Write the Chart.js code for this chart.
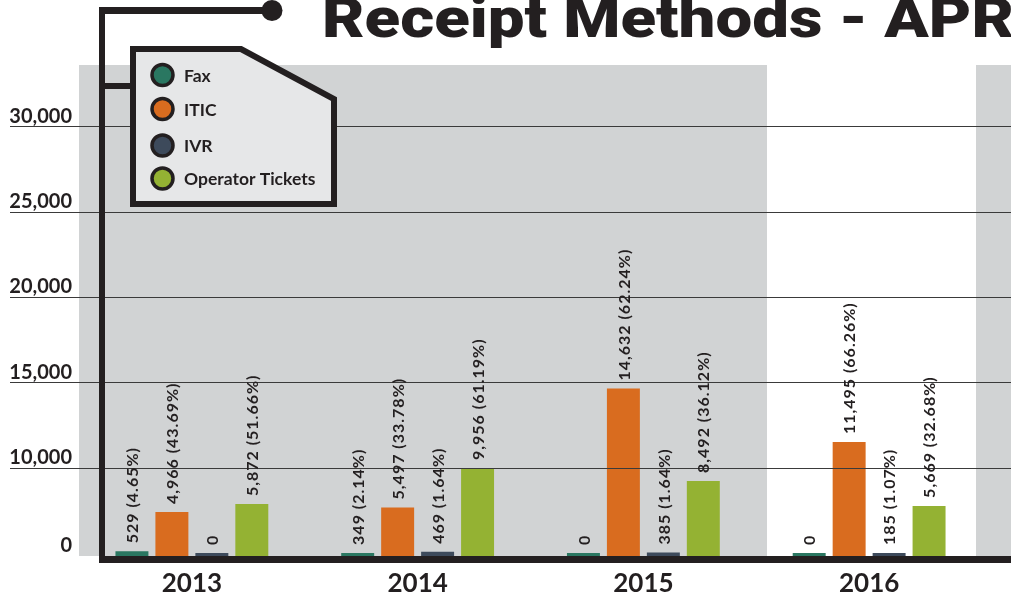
<!DOCTYPE html>
<html>
<head>
<meta charset="utf-8">
<script src="https://cdn.jsdelivr.net/npm/chart.js@4.4.1/dist/chart.umd.min.js"></script>
<style>
html,body{margin:0;padding:0;background:#ffffff;}
#wrap{width:1011px;height:598px;position:relative;overflow:hidden;}
canvas{display:block;}
</style>
</head>
<body>
<div id="wrap"><canvas id="chart" width="1011" height="598"></canvas></div>
<script>
// ---------- data ----------
const categories = ['2013', '2014', '2015', '2016'];
const seriesNames = ['Fax', 'ITIC', 'IVR', 'Operator Tickets'];
const faxValues = [529, 349, 0, 0];
const iticValues = [4966, 5497, 14632, 11495];
const ivrValues = [0, 469, 385, 185];
const operatorValues = [5872, 9956, 8492, 5669];
const faxPct = [4.65, 2.14, null, null];
const iticPct = [43.69, 33.78, 62.24, 66.26];
const ivrPct = [null, 1.64, 1.64, 1.07];
const operatorPct = [51.66, 61.19, 36.12, 32.68];
const yTickValues = [0, 10000, 15000, 20000, 25000, 30000];
const titleText = 'Receipt Methods - APR';

// ---------- styles ----------
const INK = '#231f20';
const colors = ['#2a7761', '#d96c1f', '#3d4a5b', '#94b233'];
const FONT = 'Lato, "DejaVu Sans", sans-serif';

// ---------- custom scale: compressed segment below the break (as in the reference axis) ----------
const BREAK = 10000, LOW_RATIO = 0.518;
class BrokenLinearScale extends Chart.LinearScale {
  _warp(v) { return v <= BREAK ? v * LOW_RATIO : BREAK * LOW_RATIO + (v - BREAK); }
  _unwarp(f) { const b = BREAK * LOW_RATIO; return f <= b ? f / LOW_RATIO : BREAK + (f - b); }
  getPixelForValue(value) {
    if (value === null || value === undefined || isNaN(value)) return NaN;
    const a = this._warp(this.min), b = this._warp(this.max);
    return this.getPixelForDecimal((this._warp(value) - a) / (b - a));
  }
  getValueForPixel(pixel) {
    const a = this._warp(this.min), b = this._warp(this.max);
    return this._unwarp(a + this.getDecimalForPixel(pixel) * (b - a));
  }
}
BrokenLinearScale.id = 'brokenLinear';
BrokenLinearScale.defaults = Chart.LinearScale.defaults;
Chart.register(BrokenLinearScale);

// ---------- plugins ----------
const backgroundPlugin = {
  id: 'bgBands',
  beforeDraw(chart) {
    const ctx = chart.ctx, a = chart.chartArea;
    ctx.save();
    ctx.fillStyle = '#d1d3d4';
    ctx.fillRect(a.left, 65, 767 - a.left, a.bottom - 65);
    ctx.fillRect(976, 65, chart.width - 976, a.bottom - 65);
    ctx.restore();
  }
};

const gridPlugin = {
  id: 'gridOver',
  afterDatasetsDraw(chart) {
    const ctx = chart.ctx, y = chart.scales.y;
    ctx.save();
    ctx.strokeStyle = '#3a3a3a';
    ctx.lineWidth = 1.2;
    yTickValues.forEach(v => {
      if (v === 0) return;
      const py = Math.round(y.getPixelForValue(v)) + 0.5;
      ctx.beginPath();
      ctx.moveTo(10, py);
      ctx.lineTo(chart.width, py);
      ctx.stroke();
    });
    ctx.restore();
  }
};

const labelPlugin = {
  id: 'barLabels',
  afterDatasetsDraw(chart) {
    const ctx = chart.ctx;
    chart.data.datasets.forEach((ds, di) => {
      const meta = chart.getDatasetMeta(di);
      meta.data.forEach((bar, i) => {
        const v = ds.data[i];
        const p = ds.pct[i];
        const text = v.toLocaleString('en-US') + (p !== null && p !== undefined ? ' (' + p.toFixed(2) + '%)' : '');
        ctx.save();
        ctx.translate(bar.x + 1, bar.y - 8);
        ctx.rotate(-Math.PI / 2);
        ctx.font = 'bold 16px ' + FONT;
        try { ctx.letterSpacing = '1px'; } catch (e) {}
        ctx.textAlign = 'left';
        ctx.textBaseline = 'middle';
        ctx.fillStyle = INK;
        ctx.fillText(text, 0, 0);
        ctx.restore();
      });
    });
  }
};

const framePlugin = {
  id: 'frame',
  afterDraw(chart) {
    const ctx = chart.ctx, a = chart.chartArea;
    ctx.save();
    ctx.fillStyle = INK;
    // axis bars
    ctx.fillRect(99, a.bottom, chart.width - 99, 7);
    ctx.fillRect(99, 7, 6, a.bottom);
    ctx.fillRect(99, 7, 172, 7);
    ctx.beginPath();
    ctx.arc(272, 10.5, 10.5, 0, Math.PI * 2);
    ctx.fill();
    // connector to legend
    ctx.fillRect(105, 83, 28, 6);

    // legend box
    ctx.beginPath();
    ctx.moveTo(133, 49);
    ctx.lineTo(241, 49);
    ctx.lineTo(334, 99);
    ctx.lineTo(334, 204);
    ctx.lineTo(133, 204);
    ctx.closePath();
    ctx.fillStyle = '#e6e7e8';
    ctx.fill();
    ctx.lineWidth = 6;
    ctx.lineJoin = 'miter';
    ctx.strokeStyle = INK;
    ctx.stroke();

    const ys = [75, 109, 145.5, 178.5];
    chart.data.datasets.forEach((ds, i) => {
      ctx.beginPath();
      ctx.arc(162.5, ys[i], 10.5, 0, Math.PI * 2);
      ctx.fillStyle = ds.backgroundColor;
      ctx.fill();
      ctx.lineWidth = 3.5;
      ctx.strokeStyle = INK;
      ctx.stroke();
      ctx.fillStyle = INK;
      ctx.font = 'bold 17.5px ' + FONT;
      ctx.textAlign = 'left';
      ctx.textBaseline = 'middle';
      ctx.fillText(ds.label, 184, ys[i] + 1);
    });

    // title (fit to its width in the reference)
    ctx.font = '900 56px Roboto, ' + FONT;
    ctx.textAlign = 'left';
    ctx.textBaseline = 'alphabetic';
    const w = ctx.measureText(titleText).width;
    const target = 1014 - 322;
    ctx.translate(322, 37);
    ctx.scale(target / w, 1);
    ctx.fillStyle = INK;
    ctx.fillText(titleText, 0, 0);
    ctx.restore();
  }
};

// ---------- chart ----------
const valueSets = [faxValues, iticValues, ivrValues, operatorValues];
const pctSets = [faxPct, iticPct, ivrPct, operatorPct];

new Chart(document.getElementById('chart'), {
  type: 'bar',
  data: {
    labels: categories,
    datasets: seriesNames.map((name, i) => ({
      label: name,
      data: valueSets[i],
      pct: pctSets[i],
      backgroundColor: colors[i],
      borderWidth: 0,
      minBarLength: 3,
      categoryPercentage: 0.708,
      barPercentage: 0.825
    }))
  },
  options: {
    responsive: false,
    animation: false,
    devicePixelRatio: 1,
    layout: { padding: { top: 41, right: 29, left: 0, bottom: 0 } },
    plugins: {
      legend: { display: false },
      title: { display: false },
      tooltip: { enabled: false }
    },
    scales: {
      x: {
        grid: { display: false, drawTicks: false },
        border: { display: false },
        ticks: { padding: 12, color: INK, font: { family: FONT, weight: 'bold', size: 26 } },
        afterFit: s => { s.height = 42; }
      },
      y: {
        type: 'brokenLinear',
        min: 0,
        max: 35000,
        afterBuildTicks: s => { s.ticks = yTickValues.map(v => ({ value: v })); },
        afterFit: s => { s.width = 79; },
        grid: { display: false, drawTicks: false },
        border: { display: false },
        ticks: {
          padding: 7,
          labelOffset: -10,
          autoSkip: false,
          color: INK,
          font: { family: FONT, weight: 'bold', size: 20 },
          callback: v => Number(v).toLocaleString('en-US')
        }
      }
    }
  },
  plugins: [backgroundPlugin, gridPlugin, labelPlugin, framePlugin]
});
</script>
</body>
</html>
